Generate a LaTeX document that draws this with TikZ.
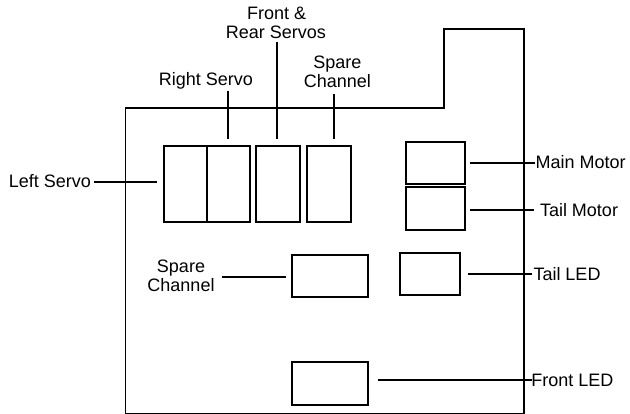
\documentclass[tikz,border=0pt]{standalone}
\usepackage{fontspec}
\setmainfont{Liberation Sans}
\begin{document}
\begin{tikzpicture}[x=1pt,y=-1pt,
  part/.style={draw=black, line width=1.8pt, inner sep=0pt, outer sep=0pt},
  lead/.style={draw=black, line width=1.8pt},
  outline/.style={draw=black, line width=1.8pt},
  lbl/.style={inner sep=0pt, outer sep=0pt, font=\fontsize{18}{19}\selectfont, align=center}]
\useasboundingbox (0,0) rectangle (630,414);
% board outline
\draw[outline] (125.5,108.3) -- (444,108.3) -- (444,29.3) -- (523.7,29.3) -- (523.7,413.8) -- (125.5,413.8) -- cycle;
% parts
\node[part, minimum width=43, minimum height=76] (ls) at (185.5,183.7) {};
\node[part, minimum width=43, minimum height=76] (rs) at (228.5,183.7) {};
\node[part, minimum width=44, minimum height=76] (fr) at (278,183.7) {};
\node[part, minimum width=43.7, minimum height=76] (sca) at (328.8,183.7) {};
\node[part, minimum width=59.3, minimum height=42] (mm) at (435.3,163) {};
\node[part, minimum width=59.3, minimum height=43] (tm) at (435.3,208.2) {};
\node[part, minimum width=59.7, minimum height=42.6] (tl) at (429.8,274) {};
\node[part, minimum width=76, minimum height=42.6] (scb) at (329.7,276) {};
\node[part, minimum width=76, minimum height=43] (fl) at (329.7,383.5) {};
% labels
\node[lbl, anchor=base east] (lLS) at (91,187.7) {Left Servo};
\node[lbl, anchor=base] (lRS) at (205.8,85.7) {Right Servo};
\node[lbl, anchor=base] (lFRa) at (276.6,20) {Front \&};
\node[lbl, anchor=base] (lFRb) at (276,39) {Rear Servos};
\node[lbl, anchor=base] (lSCa) at (337.3,68.3) {Spare};
\node[lbl, anchor=base] (lSCb) at (337.3,87.3) {Channel};
\node[lbl, anchor=base] (lSDa) at (181,272.7) {Spare};
\node[lbl, anchor=base] (lSDb) at (181,292) {Channel};
\node[lbl, anchor=base west] (lMM) at (535.7,168.3) {Main Motor};
\node[lbl, anchor=base west] (lTM) at (540,216.5) {Tail Motor};
\node[lbl, anchor=base west] (lTL) at (533.5,281) {Tail LED};
\node[lbl, anchor=base west] (lFL) at (531.3,387) {Front LED};
% connector ends
\coordinate (cLSa) at (94,181.7);   \coordinate (cLSb) at (157,181.7);
\coordinate (cRSa) at (228.3,91);   \coordinate (cRSb) at (228.3,139);
\coordinate (cFRa) at (276.7,42);   \coordinate (cFRb) at (276.7,139);
\coordinate (cSCa) at (334,93.7);   \coordinate (cSCb) at (334,139);
\coordinate (cMMa) at (470,163);    \coordinate (cMMb) at (535,163);
\coordinate (cTMa) at (470,209.7);  \coordinate (cTMb) at (534,209.7);
\coordinate (cTLa) at (468,274.3);  \coordinate (cTLb) at (532,274.3);
\coordinate (cFLa) at (377.7,380);  \coordinate (cFLb) at (532,380);
\coordinate (cSDa) at (222,277.3);  \coordinate (cSDb) at (286,277.3);
% connectors
\draw[lead] (cLSa) -- (cLSb);
\draw[lead] (cRSa) -- (cRSb);
\draw[lead] (cFRa) -- (cFRb);
\draw[lead] (cSCa) -- (cSCb);
\draw[lead] (cMMa) -- (cMMb);
\draw[lead] (cTMa) -- (cTMb);
\draw[lead] (cTLa) -- (cTLb);
\draw[lead] (cFLa) -- (cFLb);
\draw[lead] (cSDa) -- (cSDb);
\end{tikzpicture}
\end{document}
